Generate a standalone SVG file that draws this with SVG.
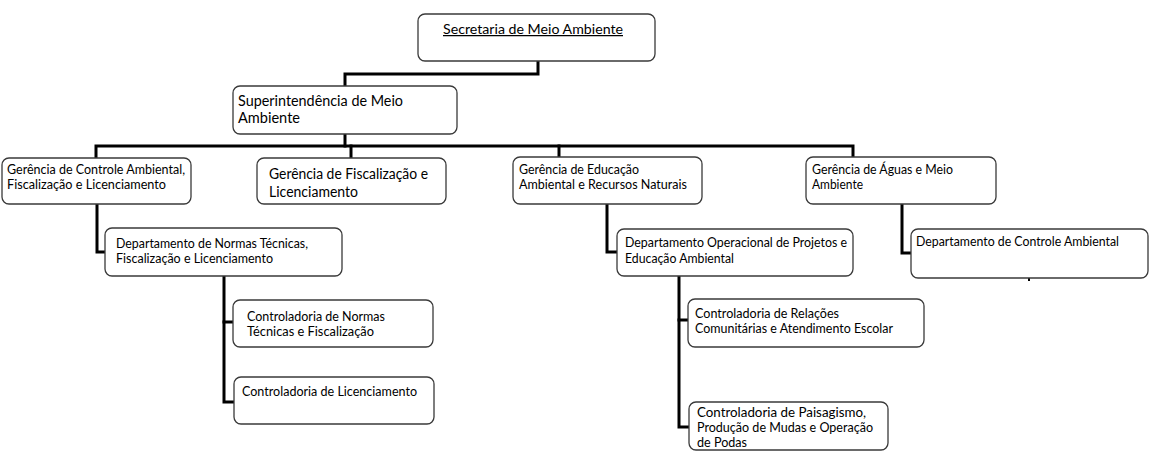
<svg xmlns="http://www.w3.org/2000/svg" width="1165" height="468" viewBox="0 0 1165 468">
<style>
.box{fill:#fff;stroke:#3a3a3a;stroke-width:1.3}
.t{font-family:Lato,"Open Sans","Liberation Sans",sans-serif;font-size:12.5px;fill:#000}
.t14{font-family:Lato,"Open Sans","Liberation Sans",sans-serif;font-size:14.5px;fill:#000}
.c{fill:none;stroke:#000;stroke-width:3;stroke-linejoin:miter;stroke-linecap:square}
</style>
<rect width="1165" height="468" fill="#fff"/>
<g id="connectors">
<path class="c" d="M538 62 V74 H345 V86"/>
<path class="c" d="M345 134 V146"/>
<path class="c" d="M96 158 V146 H853 V157"/>
<path class="c" d="M351 146 V157"/>
<path class="c" d="M559 146 V157"/>
<path class="c" d="M97 204 V252 H105"/>
<path class="c" d="M224 276 V402 H233"/>
<path class="c" d="M224 322 H232"/>
<path class="c" d="M607 204 V252 H616"/>
<path class="c" d="M679 276 V427 H688"/>
<path class="c" d="M679 320 H687"/>
<path class="c" d="M902 204 V253 H910"/>
<line x1="1029" y1="278" x2="1029" y2="281" stroke="#000" stroke-width="2"/>
</g>
<g id="n-secretaria">
<rect class="box" x="418" y="14" width="237" height="47" rx="7"/>
<text class="t" x="443" y="34" font-size="14" text-decoration="underline" textLength="180" lengthAdjust="spacingAndGlyphs">Secretaria de Meio Ambiente</text>
</g>
<g id="n-superintendencia">
<rect class="box" x="233" y="86" width="224" height="48" rx="7"/>
<text class="t14" x="238" y="106" textLength="165" lengthAdjust="spacingAndGlyphs">Superintendência de Meio</text>
<text class="t14" x="238" y="123" textLength="62" lengthAdjust="spacingAndGlyphs">Ambiente</text>
</g>
<g id="n-ger-controle">
<rect class="box" x="2" y="158" width="189" height="46" rx="7"/>
<text class="t" x="7" y="174" textLength="178" lengthAdjust="spacingAndGlyphs">Gerência de Controle Ambiental,</text>
<text class="t" x="7" y="189" textLength="159" lengthAdjust="spacingAndGlyphs">Fiscalização e Licenciamento</text>
</g>
<g id="n-ger-fiscalizacao">
<rect class="box" x="257" y="158" width="189" height="46" rx="7"/>
<text class="t14" x="269" y="179" textLength="159" lengthAdjust="spacingAndGlyphs">Gerência de Fiscalização e</text>
<text class="t14" x="269" y="197" textLength="89" lengthAdjust="spacingAndGlyphs">Licenciamento</text>
</g>
<g id="n-ger-educacao">
<rect class="box" x="513" y="157" width="189" height="47" rx="7"/>
<text class="t" x="519" y="174" textLength="120" lengthAdjust="spacingAndGlyphs">Gerência de Educação</text>
<text class="t" x="519" y="189" textLength="168" lengthAdjust="spacingAndGlyphs">Ambiental e Recursos Naturais</text>
</g>
<g id="n-ger-aguas">
<rect class="box" x="806" y="157" width="190" height="47" rx="7"/>
<text class="t" x="812" y="174" textLength="141" lengthAdjust="spacingAndGlyphs">Gerência de Águas e Meio</text>
<text class="t" x="812" y="189" textLength="51" lengthAdjust="spacingAndGlyphs">Ambiente</text>
</g>
<g id="n-dep-normas">
<rect class="box" x="105" y="228" width="237" height="48" rx="7"/>
<text class="t" x="116" y="248" textLength="192" lengthAdjust="spacingAndGlyphs">Departamento de Normas Técnicas,</text>
<text class="t" x="116" y="263" textLength="157" lengthAdjust="spacingAndGlyphs">Fiscalização e Licenciamento</text>
</g>
<g id="n-ctrl-normas">
<rect class="box" x="233" y="300" width="200" height="47" rx="7"/>
<text class="t" x="247" y="321" textLength="138" lengthAdjust="spacingAndGlyphs">Controladoria de Normas</text>
<text class="t" x="247" y="336" textLength="127" lengthAdjust="spacingAndGlyphs">Técnicas e Fiscalização</text>
</g>
<g id="n-ctrl-licenciamento">
<rect class="box" x="234" y="377" width="200" height="47" rx="7"/>
<text class="t" x="242" y="396" textLength="175" lengthAdjust="spacingAndGlyphs">Controladoria de Licenciamento</text>
</g>
<g id="n-dep-operacional">
<rect class="box" x="617" y="229" width="236" height="47" rx="7"/>
<text class="t" x="625" y="247" textLength="222" lengthAdjust="spacingAndGlyphs">Departamento Operacional de Projetos e</text>
<text class="t" x="625" y="263" textLength="109" lengthAdjust="spacingAndGlyphs">Educação Ambiental</text>
</g>
<g id="n-ctrl-relacoes">
<rect class="box" x="688" y="299" width="236" height="48" rx="7"/>
<text class="t" x="695" y="318" textLength="144" lengthAdjust="spacingAndGlyphs">Controladoria de Relações</text>
<text class="t" x="695" y="333" textLength="198" lengthAdjust="spacingAndGlyphs">Comunitárias e Atendimento Escolar</text>
</g>
<g id="n-ctrl-paisagismo">
<rect class="box" x="689" y="402" width="199" height="48" rx="7"/>
<text class="t" x="697" y="417" textLength="169" lengthAdjust="spacingAndGlyphs">Controladoria de Paisagismo,</text>
<text class="t" x="697" y="432" textLength="176" lengthAdjust="spacingAndGlyphs">Produção de Mudas e Operação</text>
<text class="t" x="697" y="447" textLength="50" lengthAdjust="spacingAndGlyphs">de Podas</text>
</g>
<g id="n-dep-controle">
<rect class="box" x="911" y="229" width="237" height="49" rx="7"/>
<text class="t" x="916" y="246" textLength="203" lengthAdjust="spacingAndGlyphs">Departamento de Controle Ambiental</text>
</g>
</svg>
